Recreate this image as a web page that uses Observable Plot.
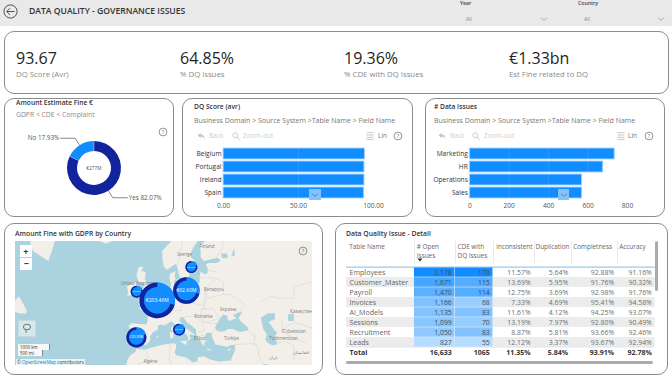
<!DOCTYPE html>
<html><head><meta charset="utf-8">
<script src="https://cdn.jsdelivr.net/npm/d3@7"></script>
<script src="https://cdn.jsdelivr.net/npm/@observablehq/plot@0.6"></script>
<style>
html,body{margin:0;padding:0;background:#fff;width:672px;height:378px;overflow:hidden}
body{font-family:"Open Sans","Noto Sans",sans-serif;position:relative}
.panel{position:absolute;box-sizing:border-box;border:1px solid #8c8c8c;border-radius:10px;background:#fff}
.t{position:absolute;white-space:nowrap;transform:translateY(-50%);line-height:1}
.abs{position:absolute}
.abs svg{display:block;overflow:hidden}
</style></head><body>
<script>
// ---------- data ----------
const kpiValues = ["93.67", "64.85%", "19.36%", "€1.33bn"];
const kpiLabels = ["DQ Score (Avr)", "% DQ issues", "% CDE with DQ Issues", "Est Fine related to DQ"];

const gdprLabels = ["Yes", "No"];
const gdprShare = [82.07, 17.93];

const countryNames = ["Belgium", "Portugal", "Ireland", "Spain"];
const countryScores = [94.4, 94.0, 94.0, 93.8];
const domainNames = ["Marketing", "HR", "Operations", "Sales"];
const domainIssues = [735, 677, 570, 570];

const mapCountries = ["Ireland", "France", "Germany", "Sweden", "Italy", "Spain"];
const mapLon = [-5.9, 2.9, 15.3, 17.4, 12.2, -6];
const mapLat = [52.7, 50.4, 53, 58.6, 41.8, 39.3];
const mapAmount = [2.6, 203.46, 62.6, 2.6, 2.6, 20.3];
const mapLabels = ["€2.60M", "€203.46M", "€62.60M", "€2.60M", "€2.60M", "€20.30M"];
const mapLightShare = [0.2, 0.29, 0.29, 0.2, 0.2, 0.2];

const tableNames = ["Employees", "Customer_Master", "Payroll", "Invoices", "AI_Models", "Sessions", "Recruitment", "Leads"];
const openIssues = [2178, 1671, 1470, 1166, 1135, 1099, 1050, 827];
const cdeIssues = [170, 115, 114, 68, 83, 70, 83, 55];
const inconsistent = [11.57, 13.69, 12.75, 7.33, 11.61, 13.19, 8.87, 12.12];
const duplication = [5.64, 5.95, 3.69, 4.69, 4.12, 7.97, 5.81, 3.37];
const completeness = [92.88, 91.76, 92.98, 95.41, 94.25, 92.80, 93.66, 93.67];
const accuracy = [91.16, 90.32, 91.76, 94.58, 93.07, 90.49, 92.46, 92.94];
const totalRow = ["Total", "16,633", "1065", "11.35%", "5.84%", "93.91%", "92.78%"];
const tableHeaders = ["Table Name", "# Open\nIssues", "CDE with\nDQ Issues", "Inconsistent", "Duplication", "Completness", "Accuracy"];

// rough coastlines [lon, lat]
const landRings = [
 [[-10.5,29],[-9.8,31.5],[-8.5,33.3],[-6.5,34.2],[-5.9,35.8],[-6.3,36.6],[-7.4,37.2],[-8.9,37],[-8.8,38.5],[-9.5,38.8],[-8.8,40.5],[-8.8,42.2],[-9.3,43],[-8,43.8],[-5.8,43.6],[-3.5,43.5],[-1.8,43.4],[-1.2,44.6],[-1.2,46],[-2.3,47.1],[-4.5,47.9],[-4.7,48.5],[-3,48.8],[-1.6,48.7],[-1.8,49.7],[-1.1,49.4],[0.2,49.6],[1.5,50.3],[1.7,50.9],[3.5,51.4],[4.2,52.2],[4.8,53],[6.8,53.5],[8.5,53.8],[8.8,54.9],[8.1,55.6],[8.1,57],[10.6,57.7],[10.3,56.3],[10.8,56],[9.8,55],[10,54.4],[11,54],[12.5,54.4],[14.2,53.9],[16.5,54.5],[18.5,54.8],[19.8,54.4],[21,55.2],[21,56.8],[21.5,57.6],[23,57],[24.3,57.2],[24.4,58.3],[23.5,59.2],[25,59.5],[28,59.5],[30,60],[28.5,60.6],[25,60.2],[22.8,59.9],[21.3,60.7],[21.4,61.8],[21,63],[23,63.8],[25,65],[25,65.8],[22.5,65.9],[21.2,64.8],[19,63.2],[17.4,62],[17.2,60.7],[18.8,60],[18,59],[16.5,58],[16.5,56.5],[15.8,56.1],[14.3,55.6],[13,55.4],[12.5,56.3],[11.8,57.6],[11.2,59],[10.5,59.3],[9.5,58.9],[7,58],[5.6,58.8],[5,60.5],[5,62],[7,63],[9,64],[14,70],[75,72],[75,0],[-20,0],[-17,15],[-13,27]],
 [[-5.5,50],[-3,50.6],[0.8,50.8],[1.5,52.5],[0.2,53],[-0.2,54],[-1.6,55],[-2.5,56],[-2,57.5],[-4,57.7],[-3,58.6],[-5,58.6],[-6,56.8],[-5,55],[-3.2,54.9],[-3,53.4],[-4.5,53.2],[-4.2,52.3],[-5.2,51.8],[-3,51.4],[-4.5,51]],
 [[-6,52.2],[-6.2,53.5],[-5.6,54.7],[-7,55.3],[-8.5,54.5],[-10,54],[-9.5,52.5],[-10,51.7],[-8,51.7]],
 [[-24,65.5],[-22,64],[-19,63.4],[-15,64.2],[-13.5,65],[-15,66.3],[-18,66.2],[-22,66.3]],
 [[-43.5,59.9],[-50,62],[-53,66],[-54,72],[-25,72],[-22,70],[-32,68],[-40,65],[-42,62]],
 [[-59,47.6],[-56,46.8],[-53,46.7],[-52.7,47.6],[-54,49.3],[-56,51.5],[-57.5,50.5]]
];
const seaRings = [
 [[-6,35.95],[-5.3,36.1],[-4.4,36.7],[-2.2,36.7],[-0.7,37.6],[0,38.8],[-0.3,39.5],[0.8,40.8],[3.2,41.9],[3,43.1],[4.5,43.4],[6,43.1],[7.5,43.8],[8.8,44.4],[10.3,43.5],[10.6,42.9],[12.2,41.8],[14.2,40.8],[15.7,40],[16.1,38.9],[15.7,38],[16.5,38.4],[17.1,39],[16.6,39.7],[16.9,40.4],[18.4,39.9],[18.5,40.3],[16.5,41.5],[15.5,42],[14,42.5],[13.5,43.6],[12.4,44.4],[12.4,45.4],[13.7,45.7],[14.6,45],[15.5,44],[17.5,43],[19.4,41.8],[19.4,40.4],[20.2,39.5],[21.2,38.3],[22,37],[23,36.5],[23,38],[24,37.8],[23,39.5],[24,40.8],[26,40.8],[26.2,39.5],[27,38],[27.5,37],[28.5,36.7],[30.6,36.5],[32.5,36.1],[34.5,36.7],[36,36.8],[36,35],[34.8,32.5],[34.2,31.3],[32,31.2],[29,30.9],[25,31.7],[23,32.7],[20.2,32.5],[20,31],[18,30.5],[15.5,32.3],[11,33.2],[10.2,34.2],[10.9,35.6],[10.9,37.1],[9.8,37.3],[5,36.8],[1,36],[-2,35.2],[-5.3,35.3],[-6.5,35.8]],
 [[27.5,42.5],[28,43.5],[29.7,45.2],[30.8,46.4],[33,46],[32.5,45.4],[33.6,44.5],[35.4,45],[36.6,45.3],[35,46.2],[37.5,47],[39,47.1],[37.5,45.3],[38.5,44.3],[41.5,42.5],[41.5,41.5],[38,41],[35,42],[33,42],[31.3,41.2],[29,41.2],[28,41.6]],
 [[47,45.5],[50,46.8],[53,46.8],[53,45],[51,44.5],[50.3,44],[51.5,43],[52.8,41.5],[54,41],[53,39.8],[53.9,37],[52,36.6],[50,37.4],[48.9,38.4],[49.5,40.3],[48,42],[47.5,43.5]],
 [[58.5,46.5],[61,46.5],[61,44.5],[58.5,44.5]],
 [[30.5,60.5],[33,60.6],[32.5,61.5],[30,61.5]],
 [[34.5,61],[36,61],[35.5,62.5]],
 [[48,30],[50.5,29.8],[52,27.5],[56,27],[56.5,25],[51,24.5],[49,27]]
];
const islandRings = [
 [[12.5,38],[15.5,38.2],[15.1,36.7]],
 [[8.2,41],[9.7,41],[9.6,39.1],[8.4,39]],
 [[8.6,42.5],[9.4,43],[9.5,41.6],[9,41.4]],
 [[23.6,35.5],[26.3,35.2],[24.7,34.9]],
 [[32.4,35],[34.5,35.6],[33.5,34.7]],
 [[2.4,39.6],[3.4,39.9],[3.2,39.3]],
 [[11,55.7],[12.6,56],[12.3,55.2]]
];
const borderLines = [
 [[47,50],[51,51.5],[55,51],[61,51],[61,54],[68,55],[76,54]],
 [[56,45],[56,41.3],[58,42.7],[61,44],[66,43],[70,42]],
 [[54,37.3],[57,38],[61,36.5]],
 [[44,37],[44.5,39.7],[41.5,41.5]],
 [[36,36.8],[42,37.2],[44.8,37],[46,35],[46,33],[48,30]],
 [[61,36.5],[61,31.5]],
 [[56,41.3],[61,39],[66,37.5]],
 [[24,48],[22.5,48.2],[24,51],[31,52],[34,52],[40,49.5],[38,47]],
 [[24,51],[23.5,53.5],[28,56],[31,55],[31,52]],
 [[22,48],[27,48],[29.5,45.2],[23,44],[21,46],[22,48]],
 [[14.5,54],[15,51],[19,49.5],[22.5,49],[23.5,53.5]],
 [[6,51],[8,49],[7.5,47.6],[13,47.5],[13,48.5],[15,51]],
 [[-2,35],[-1,32],[-8,28]],
 [[8.5,37],[8,32],[9,30]],
 [[11.5,59],[12.5,61],[14,65]],
 [[28,60.6],[31,63],[30,65]],
 [[21,56.3],[28,56]],
 [[24.3,57.9],[28,57.5]],
 [[13.5,45.5],[19,46],[22,44],[23,41.5],[20,41]],
 [[26.2,41],[28,42]],
 [[22.5,44],[28,43.7]]
];
const placeNames = ["Sverige","Finland","United Kingdom","Беларусь","Україна","Қазақстан","O'zbekiston","Türkmenistan","Türkiye","ایران","România","Algérie","Ελλάς","افغانستان"];
const placeLon = [14.5,24,-5.5,27,33,64,61,56.6,34.5,52,22.5,0,21,64];
const placeLat = [61.3,62.8,54.8,53.2,47.8,47.2,41.2,39,39,32.4,45.8,30.8,39,34.1];

// ---------- colours / helpers ----------
const FONT = '"Open Sans","Noto Sans",sans-serif';
const LIGHT = "#118dff", DARK = "#12239e";
const root = document.body;
function text(x, y, str, size, color, weight) {
  const d = document.createElement("div");
  d.className = "t";
  d.textContent = str;
  d.style.cssText = `left:${x}px;top:${y}px;font-size:${size}px;color:${color};font-weight:${weight||400};`;
  root.appendChild(d);
  return d;
}
function box(cls, x, y, w, h, extra) {
  const d = document.createElement("div");
  d.className = cls;
  d.style.cssText = `left:${x}px;top:${y}px;width:${w}px;height:${h}px;${extra||""}`;
  root.appendChild(d);
  return d;
}
function icon(x, y, w, h, inner) {
  const d = box("abs", x, y, w, h);
  d.innerHTML = `<svg width="${w}" height="${h}" viewBox="0 0 ${w} ${h}">${inner}</svg>`;
  return d;
}
function help(cx, cy) {
  icon(cx - 5, cy - 5, 10, 10, `<circle cx="5" cy="5" r="3.9" fill="none" stroke="#666" stroke-width=".7"/><text x="5" y="7" font-size="5.5" text-anchor="middle" fill="#666" font-family='Open Sans'>?</text>`);
}
function place(plot, x, y) {
  const d = box("abs", x, y, plot.getAttribute("width"), plot.getAttribute("height"));
  d.appendChild(plot);
}
function chevron(x, y, color) {
  icon(x - 4, y - 2, 8, 4, `<path d="M.8 .8L4 3.2L7.2 .8" fill="none" stroke="${color}" stroke-width=".7"/>`);
}

// ---------- header ----------
box("abs", 0, 0, 672, 26, "background:#e9e9e9");
icon(3, 4, 15, 15, `<circle cx="7.5" cy="7.5" r="6.6" fill="none" stroke="#555" stroke-width="1"/><path d="M11.5 7.5H3.8M7 4.2L3.7 7.5L7 10.8" fill="none" stroke="#555" stroke-width="1"/>`);
text(29, 11.3, "DATA QUALITY - GOVERNANCE ISSUES", 8.6, "#333", 600);
text(460, 4, "Year", 5.2, "#444", 600);
text(466, 19.5, "All", 5.2, "#888");
chevron(544, 18.5, "#999");
text(578, 4, "Country", 5.2, "#444", 600);
text(584, 19.5, "All", 5.2, "#888");
chevron(661, 18.5, "#999");

// ---------- panels ----------
box("panel", 4, 31, 665, 63);
box("panel", 4, 98, 170, 119);
box("panel", 182, 98, 231, 119);
box("panel", 425, 98, 240, 119);
box("panel", 4, 223, 319, 152);
box("panel", 335, 223, 333, 152);

// ---------- KPI row ----------
const kpiX = [16, 180, 344, 509];
kpiValues.forEach((v, i) => {
  text(kpiX[i], 57.5, v, 16, "#252423", 400);
  text(kpiX[i], 75, kpiLabels[i], 7.8, "#8a8a8a", 400);
});

// ---------- donut ----------
text(16, 103, "Amount Estimate Fine €", 6.7, "#333", 600);
text(16, 115.3, "GDPR < CDE < Complaint", 6.8, "#8a8a8a");
help(163, 132);
const donutSlices = gdprLabels.map((k, i) => ({key: k, share: gdprShare[i]}));
const donutMark = (index, scales, values, dims) => {
  const cx = dims.width / 2, cy = dims.height / 2, R = 27, r0 = 17;
  const pie = d3.pie().sort(null).value(d => d.share)(donutSlices);
  const arc = d3.arc().innerRadius(r0).outerRadius(R).padAngle(0.012);
  const g = d3.create("svg:g").attr("transform", `translate(${cx},${cy})`);
  g.selectAll("path").data(pie).join("path")
    .attr("d", arc).attr("fill", (d, i) => i ? LIGHT : DARK);
  pie.forEach(p => {
    const a = (p.startAngle + p.endAngle) / 2;
    const s = Math.sin(a), c = -Math.cos(a);
    const dir = s > 0 ? 1 : -1;
    const ex = s * 35.2, ey = c * 35.2;
    g.append("path").attr("fill", "none").attr("stroke", "#555").attr("stroke-width", .7)
      .attr("d", `M${s * R},${c * R}L${ex},${ey}H${ex + dir * 15}`);
    g.append("text").attr("x", ex + dir * 16).attr("y", ey).attr("dy", "0.33em")
      .attr("text-anchor", dir > 0 ? "start" : "end").attr("font-size", 6.3).attr("fill", "#555")
      .text(`${p.data.key} ${p.data.share.toFixed(2)}%`);
  });
  g.append("text").attr("text-anchor", "middle").attr("dy", "0.33em")
    .attr("font-size", 4.8).attr("fill", "#555").text("€277M");
  return g.node();
};
place(Plot.plot({width: 170, height: 90, margin: 0, style: {fontFamily: FONT, background: "transparent"},
  marks: [donutMark]}), 9.3, 122.7);

// ---------- bar charts ----------
function barChart(names, vals, xDomain, ticks, fmt, w, mL, mR) {
  const rows = names.map((n, i) => ({name: n, value: vals[i]}));
  return Plot.plot({
    width: w, height: 72, marginLeft: mL, marginRight: mR, marginTop: 2, marginBottom: 15,
    style: {fontFamily: FONT, fontSize: "6.6px", background: "transparent", color: "#444"},
    x: {domain: xDomain},
    y: {domain: names, padding: 0.17},
    marks: [
      Plot.barX(rows, {x: "value", y: "name", fill: LIGHT, stroke: "#a6d6ff", strokeWidth: 0.9}),
      Plot.gridX({ticks, stroke: "#fff", strokeOpacity: 0.1}),
      Plot.axisX({ticks, tickFormat: fmt, tickSize: 0, tickPadding: 3, label: null, fill: "#555"}),
      Plot.axisY({tickSize: 0, tickPadding: 2, label: null, fill: "#333"})
    ]
  });
}
place(barChart(countryNames, countryScores, [0, 100], [0, 50, 100], d3.format(".2f"), 231, 41, 40), 182, 143);
place(barChart(domainNames, domainIssues, [0, 800], [0, 200, 400, 600, 800], d3.format("d"), 240, 44.3, 38), 425, 143);

const panelText = [
  {title: "DQ Score (avr)", tx: 194, backI: 201, back: 209, zoomI: 236, zoom: 243, listI: 370, lin: 378, helpX: 398, chev: 315},
  {title: "# Data Issues", tx: 434, backI: 442, back: 450, zoomI: 476, zoom: 484, listI: 621, lin: 628, helpX: 649, chev: 563.5}
];
panelText.forEach(p => {
  text(p.tx, 107, p.title, 6.7, "#333", 600);
  text(p.tx, 119.5, "Business Domain > Source System >Table Name > Field Name", 7, "#777");
  icon(p.backI - 4, 132, 8, 8, `<path d="M.6 3.5L3.6 1V2.6C6 2.6 7.4 4 7.4 6.8C6.6 5.2 5.6 4.5 3.6 4.5V6Z" fill="#c4c4c4"/>`);
  text(p.back, 136, "Back", 6.6, "#cfcfcf");
  icon(p.zoomI - 4, 132, 8, 8, `<circle cx="3.2" cy="3.2" r="2.4" fill="none" stroke="#bbb" stroke-width=".7"/><path d="M5 5L7.5 7.5" stroke="#bbb" stroke-width=".8"/>`);
  text(p.zoom, 136, "Zoom-out", 6.6, "#cfcfcf");
  icon(p.listI - 4, 131.5, 8, 8, `<path d="M.5 .7H7.5M.5 3H7.5M.5 5.3H7.5M.5 7.5H7.5" stroke="#888" stroke-width=".45"/>`);
  text(p.lin, 136, "Lin", 6.6, "#777");
  help(p.helpX, 136);
  box("abs", p.chev - 5.8, 189, 11.6, 10.5, "background:#84c2fb");
  chevron(p.chev, 195, "#4a6f94");
});

// ---------- map ----------
text(15, 234, "Amount Fine with GDPR by Country", 6.8, "#333", 600);
const polyOf = ring => {
  const closed = [...ring, ring[0]];
  const poly = {type: "Polygon", coordinates: [closed]};
  if (d3.geoArea(poly) > 2 * Math.PI) poly.coordinates = [closed.slice().reverse()];
  return poly;
};
const bubbles = mapCountries.map((c, i) => ({country: c, lon: mapLon[i], lat: mapLat[i], amount: mapAmount[i], label: mapLabels[i], light: mapLightShare[i]}));
const places = placeNames.map((n, i) => ({name: n, lon: placeLon[i], lat: placeLat[i]}));
const mapProjection = d3.geoMercator().scale(134.6).translate([135, 196.4]);
const bubbleRender = (index, scales, values, dims, ctx, next) => {
  const node = next(index, scales, values, dims, ctx);
  const arc = d3.arc();
  const g = d3.create("svg:g");
  for (const i of index) {
    const R = values.r[i], share = bubbles[i].light;
    const split = share * 2 * Math.PI;
    const t = `translate(${values.x[i]},${values.y[i]})`;
    g.append("path").attr("transform", t).attr("fill", LIGHT)
      .attr("d", arc({innerRadius: R * 0.75, outerRadius: R, startAngle: 0, endAngle: split}));
    g.append("path").attr("transform", t).attr("fill", DARK)
      .attr("d", arc({innerRadius: R * 0.75, outerRadius: R, startAngle: split, endAngle: 2 * Math.PI}));
  }
  node.appendChild(g.node());
  return node;
};
place(Plot.plot({
  width: 297, height: 124, margin: 0,
  projection: mapProjection,
  r: {type: "pow", exponent: 0.25, domain: [0, 203.46], range: [0, 17.8]},
  style: {fontFamily: FONT, background: "#aad3df"},
  marks: [
    Plot.geo(landRings.map(polyOf), {fill: "#f2efe9"}),
    Plot.geo(seaRings.map(polyOf), {fill: "#aad3df"}),
    Plot.geo(islandRings.map(polyOf), {fill: "#f2efe9"}),
    Plot.geo({type: "MultiLineString", coordinates: borderLines}, {stroke: "#d8cdd2", strokeWidth: 0.5}),
    Plot.text(places, {x: "lon", y: "lat", text: "name", fontSize: 4.4, fill: "#7a7a7a"}),
    Plot.dot(bubbles, {x: "lon", y: "lat", r: "amount", fill: LIGHT, render: bubbleRender}),
    Plot.text(bubbles, {x: "lon", y: "lat", text: "label", fill: "#fff", fontSize: d => d.amount > 50 ? 5 : d.amount > 10 ? 3.4 : 2.4})
  ]
}), 15, 241);
box("abs", 20, 245, 12, 24.5, "background:#fff");
text(23.2, 250.8, "+", 9, "#333", 700);
text(23.8, 263, "−", 9, "#333", 700);
box("abs", 20, 257, 12, .6, "background:#ccc");
box("abs", 18, 320, 18, 17, "background:#d6e8ec;border:.5px solid #c8d8dc;box-sizing:border-box");
icon(22, 323, 10, 11, `<ellipse cx="5" cy="4" rx="3.6" ry="2.8" fill="none" stroke="#444" stroke-width=".7"/><path d="M4 6.8C3.4 8 4.5 8.6 4.2 10" fill="none" stroke="#444" stroke-width=".7"/>`);
box("abs", 18, 344, 31, 5.6, "background:#f7f7f7;border-right:.6px solid #888");
text(20, 346.9, "1000 km", 4.4, "#333");
box("abs", 18, 350, 24, 5.6, "background:#f7f7f7;border-right:.6px solid #888");
text(20, 352.9, "500 mi", 4.4, "#333");
box("abs", 16, 359, 69, 6, "background:rgba(255,255,255,.75)");
const attr = text(17, 362, "", 4.6, "#333");
attr.innerHTML = `© <span style="color:#2a7ab8">OpenStreetMap</span> contributors`;
help(303, 250.5);

// ---------- table ----------
text(346, 234, "Data Quality Issue - Detail", 6.8, "#333", 600);
const colEdges = [346, 413.7, 454.7, 492.7, 533.5, 571, 617, 654.7];
const headerX = [348.7, 416.3, 457, 495.7, 535, 572.7, 618.7];
const pct = d => d.toFixed(2) + "%";
const numCols = [openIssues, cdeIssues];
const rowDomain = [...tableNames, totalRow[0]];
const heat = numCols.flatMap((col, c) => {
  const [lo, hi] = d3.extent(col);
  return col.map((v, i) => ({row: tableNames[i], c, t: Math.pow((v - lo) / (hi - lo), 0.8)}));
});
const fmtInt = d3.format(",");
const cellText = [];
tableNames.forEach((n, i) => {
  [fmtInt(openIssues[i]), String(cdeIssues[i]), pct(inconsistent[i]), pct(duplication[i]), pct(completeness[i]), pct(accuracy[i])]
    .forEach((s, c) => cellText.push({row: n, c, s}));
});
const totalText = totalRow.slice(1).map((s, c) => ({row: totalRow[0], c, s}));
const headers = tableHeaders.map((h, i) => ({h, i}));
const striped = tableNames.filter((n, i) => i % 2 === 1);
colEdges.slice(1, 7).forEach(e => box("abs", e, 241, .6, 21.5, "background:#e9e9e9"));
place(Plot.plot({
  width: 320, height: 126, marginLeft: 0, marginRight: 0, marginTop: 23, marginBottom: 5,
  x: {type: "linear", domain: [340, 660], range: [0, 320], axis: null},
  y: {type: "band", domain: rowDomain, padding: 0, axis: null},
  color: {type: "linear", domain: [0, 1], range: ["#b6dcff", LIGHT]},
  style: {fontFamily: FONT, background: "transparent"},
  marks: [
    Plot.rect(striped, {x1: colEdges[0], x2: colEdges[7], y: d => d, fill: "#ececec"}),
    Plot.rect(heat, {x1: d => colEdges[d.c + 1], x2: d => colEdges[d.c + 2], y: "row", fill: "t", inset: 0.25}),
    Plot.ruleY([tableNames[0]], {x1: colEdges[0], x2: colEdges[7], stroke: "#6fb5e6", strokeWidth: 0.9, dy: -5.4}),
    Plot.ruleY([totalRow[0]], {x1: colEdges[0], x2: colEdges[7], stroke: "#cfe4f3", strokeWidth: 0.7, dy: -5.4}),
    Plot.ruleX([colEdges[1]], {y: () => totalRow[0], stroke: "#6fb5e6", strokeWidth: 0.8}),
    Plot.text(tableNames, {x: 349, y: d => d, text: d => d, textAnchor: "start", fill: "#666", fontSize: 7.1}),
    Plot.text(cellText, {x: d => colEdges[d.c + 2] - 3.4, y: "row", text: "s", textAnchor: "end", fill: d => d.c < 2 ? "#3d4f66" : "#6e6e6e", fontSize: 6.9}),
    Plot.text([totalRow[0]], {x: 349, y: d => d, text: d => d, textAnchor: "start", fill: "#333", fontSize: 7, fontWeight: 700}),
    Plot.text(totalText, {x: d => colEdges[d.c + 2] - 3.4, y: "row", text: "s", textAnchor: "end", fill: "#333", fontSize: 7, fontWeight: 700}),
    Plot.text(headers, {x: d => headerX[d.i], frameAnchor: "top", dy: -21, text: "h", textAnchor: "start", lineAnchor: "top", lineHeight: 1.4, fill: "#666", fontSize: 6.4})
  ]
}), 340, 240);
icon(416.5, 258.3, 6, 4, `<path d="M.5 .5H5.5L3 3.5Z" fill="#333"/>`);
box("abs", 346, 361.3, 307, 2.6, "background:#ababab;border-radius:2px");
box("abs", 654.5, 241, 3, 50, "background:#ababab;border-radius:2px");
</script>
</body></html>
